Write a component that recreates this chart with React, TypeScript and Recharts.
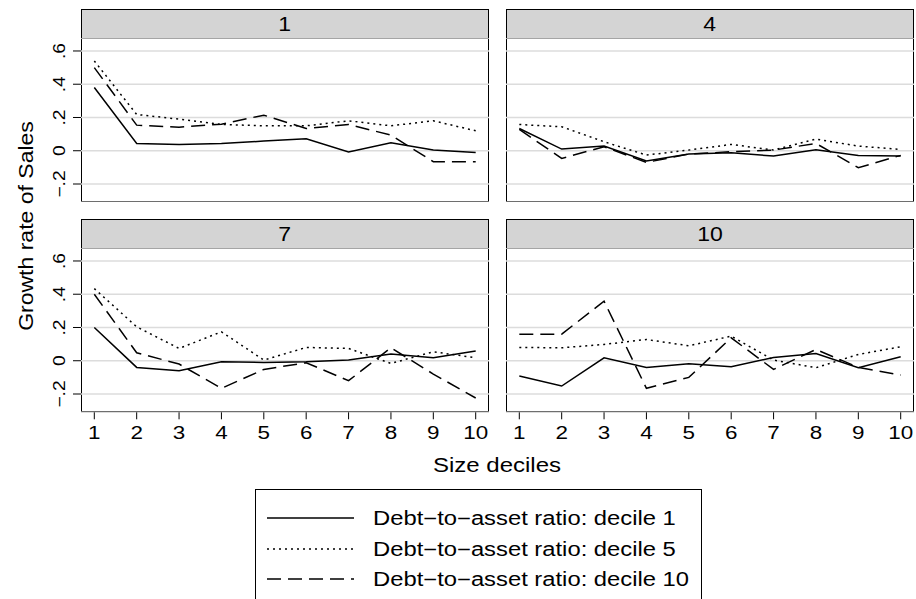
import React from 'react';
import { LineChart, Line, XAxis, YAxis, CartesianGrid, Legend } from 'recharts';

const deciles = [1, 2, 3, 4, 5, 6, 7, 8, 9, 10];
const yTicks = [-0.2, 0, 0.2, 0.4, 0.6];
const panelTitles = ['1', '4', '7', '10'];
const seriesNames = [
  'Debt\u2212to\u2212asset ratio: decile 1',
  'Debt\u2212to\u2212asset ratio: decile 5',
  'Debt\u2212to\u2212asset ratio: decile 10',
];

// panel "1"
const p1Lev1 = [0.38, 0.044, 0.038, 0.044, 0.058, 0.072, -0.008, 0.048, 0.004, -0.01];
const p1Lev5 = [0.54, 0.218, 0.19, 0.158, 0.15, 0.15, 0.18, 0.15, 0.18, 0.12];
const p1Lev10 = [0.5, 0.154, 0.142, 0.16, 0.214, 0.134, 0.158, 0.094, -0.066, -0.066];
// panel "4"
const p4Lev1 = [0.134, 0.01, 0.028, -0.062, -0.02, -0.012, -0.032, 0.006, -0.028, -0.032];
const p4Lev5 = [0.158, 0.144, 0.054, -0.026, 0.004, 0.038, 0.004, 0.07, 0.028, 0.008];
const p4Lev10 = [0.128, -0.046, 0.024, -0.07, -0.02, -0.006, 0.004, 0.044, -0.102, -0.028];
// panel "7"
const p7Lev1 = [0.2, -0.04, -0.06, -0.006, -0.01, -0.006, 0.004, 0.04, 0.018, 0.058];
const p7Lev5 = [0.434, 0.204, 0.074, 0.174, 0.004, 0.08, 0.074, -0.016, 0.054, 0.018];
const p7Lev10 = [0.4, 0.048, -0.02, -0.166, -0.052, -0.012, -0.12, 0.078, -0.08, -0.224];
// panel "10"
const p10Lev1 = [-0.092, -0.152, 0.018, -0.04, -0.018, -0.036, 0.02, 0.044, -0.042, 0.024];
const p10Lev5 = [0.08, 0.078, 0.098, 0.128, 0.09, 0.148, 0.004, -0.042, 0.038, 0.084];
const p10Lev10 = [0.16, 0.16, 0.358, -0.166, -0.1, 0.138, -0.052, 0.068, -0.04, -0.086];

const buildRows = (a: number[], b: number[], c: number[]) =>
  deciles.map((d, i) => ({ decile: d, lev1: a[i], lev5: b[i], lev10: c[i] }));

const panelRows = [
  buildRows(p1Lev1, p1Lev5, p1Lev10),
  buildRows(p4Lev1, p4Lev5, p4Lev10),
  buildRows(p7Lev1, p7Lev5, p7Lev10),
  buildRows(p10Lev1, p10Lev5, p10Lev10),
];

const FONT = '"Liberation Sans", Arial, Helvetica, sans-serif';
const DASHES = [undefined, '2 4', '14 7'];
const KEYS = ['lev1', 'lev5', 'lev10'];

const PLOT_W = 408;
const PLOT_H = 164.3;
const HEAD_H = 29;

const fmtTick = (v: number) => {
  if (v === 0) return '0';
  const s = String(Math.abs(v)).replace(/^0/, '');
  return (v < 0 ? '\u2212' : '') + s;
};

const YTick = ({ y, payload }: any) => (
  <g transform={`translate(60,${y}) rotate(-90) scale(1.2,1)`}>
    <text x={0} y={0} textAnchor="middle" dominantBaseline="central" fontSize={16} fontFamily={FONT} fill="#000">
      {fmtTick(payload.value)}
    </text>
  </g>
);

const XTick = ({ x, y, payload }: any) => (
  <g transform={`translate(${x},${y + 18}) scale(1.18,1)`}>
    <text x={0} y={0} textAnchor="middle" fontSize={19} fontFamily={FONT} fill="#000">
      {payload.value}
    </text>
  </g>
);

const LegendBox = () => (
  <div
    style={{
      width: 447,
      height: 112,
      border: '1px solid #000',
      boxSizing: 'border-box',
      background: '#fff',
      position: 'relative',
      fontFamily: FONT,
    }}
  >
    {seriesNames.map((name, i) => (
      <div key={name} style={{ position: 'absolute', left: 0, top: 28 + i * 30.5, width: '100%' }}>
        <svg width={100} height={4} style={{ position: 'absolute', left: 11, top: -2 }}>
          <line x1={0} y1={2} x2={87} y2={2} stroke="#000" strokeWidth={1.5} strokeDasharray={DASHES[i]} />
        </svg>
        <div
          style={{
            position: 'absolute',
            left: 117,
            top: -12,
            fontSize: 19.5,
            lineHeight: '24px',
            whiteSpace: 'nowrap',
            transform: 'scaleX(1.22)',
            transformOrigin: '0 50%',
          }}
        >
          {name}
        </div>
      </div>
    ))}
  </div>
);

interface PanelProps {
  idx: number;
  left: number;
  top: number;
  showX: boolean;
  showY: boolean;
  withLegend?: boolean;
}

const Panel = ({ idx, left, top, showX, showY, withLegend }: PanelProps) => {
  const yw = showY ? left : 0;
  const plotTop = top + HEAD_H;
  return (
    <>
      <div
        style={{
          position: 'absolute',
          left,
          top,
          width: PLOT_W,
          height: HEAD_H + PLOT_H,
          border: '1px solid #000',
          boxSizing: 'border-box',
        }}
      >
        <div
          style={{
            height: HEAD_H,
            boxSizing: 'border-box',
            background: '#d4d4d4',
            borderBottom: '1px solid #000',
            textAlign: 'center',
            fontSize: 20,
            lineHeight: `${HEAD_H - 1}px`,
            fontFamily: FONT,
          }}
        >
          <span style={{ display: 'inline-block', transform: 'scaleX(1.15)' }}>{panelTitles[idx]}</span>
        </div>
      </div>
      <div style={{ position: 'absolute', left: left - yw, top: plotTop }}>
        <LineChart
          width={yw + PLOT_W}
          height={PLOT_H + (showX ? 40 : 0)}
          data={panelRows[idx]}
          margin={{ top: 0, right: 0, bottom: 0, left: 0 }}
        >
          <CartesianGrid vertical={false} stroke="#dcdcdc" strokeWidth={1.5} />
          <XAxis
            dataKey="decile"
            type="number"
            domain={[0.686, 10.314]}
            ticks={deciles}
            allowDataOverflow
            hide={!showX}
            height={40}
            axisLine={false}
            tickLine={{ stroke: '#000', strokeWidth: 1 }}
            tickSize={7}
            tick={<XTick />}
            interval={0}
          />
          <YAxis
            type="number"
            domain={[-0.31, 0.678]}
            ticks={yTicks}
            allowDataOverflow
            hide={!showY}
            width={showY ? yw : 0}
            axisLine={false}
            tickLine={{ stroke: '#000', strokeWidth: 1 }}
            tickSize={8}
            tick={<YTick />}
            interval={0}
          />
          {KEYS.map((k, i) => (
            <Line
              key={k}
              type="linear"
              dataKey={k}
              name={seriesNames[i]}
              stroke="#000"
              strokeWidth={1.5}
              strokeDasharray={DASHES[i]}
              dot={false}
              isAnimationActive={false}
            />
          ))}
          {withLegend && (
            <Legend
              layout="horizontal"
              verticalAlign="middle"
              align="center"
              content={<LegendBox />}
              wrapperStyle={{ left: 255, top: 489 - plotTop, width: 447, height: 112 }}
            />
          )}
        </LineChart>
      </div>
    </>
  );
};

export default function App() {
  return (
    <div
      style={{
        position: 'absolute',
        left: 0,
        top: 0,
        width: 916,
        height: 599,
        background: '#fff',
        overflow: 'hidden',
        fontFamily: FONT,
        color: '#000',
      }}
    >
      <Panel idx={0} left={81} top={9} showX={false} showY />
      <Panel idx={1} left={506} top={9} showX={false} showY={false} />
      <Panel idx={2} left={81} top={219} showX showY withLegend />
      <Panel idx={3} left={506} top={219} showX showY={false} />
      <div
        style={{
          position: 'absolute',
          left: 26,
          top: 226,
          fontSize: 20,
          lineHeight: 1,
          whiteSpace: 'nowrap',
          transform: 'translate(-50%, -50%) rotate(-90deg) scaleX(1.15)',
        }}
      >
        Growth rate of Sales
      </div>
      <div
        style={{
          position: 'absolute',
          left: 497,
          top: 465,
          fontSize: 20,
          lineHeight: 1,
          whiteSpace: 'nowrap',
          transform: 'translate(-50%, -50%) scaleX(1.2)',
        }}
      >
        Size deciles
      </div>
    </div>
  );
}
